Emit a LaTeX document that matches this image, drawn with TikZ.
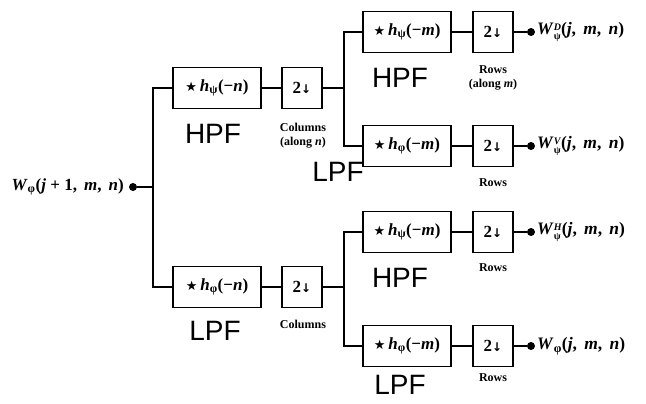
\documentclass[tikz,border=0pt]{standalone}
\usepackage{fontspec}
\setmainfont{Liberation Serif}
\setsansfont{Liberation Sans}
\newfontfamily\symf{DejaVu Sans}
\newcommand{\starh}[2]{{\symf\fontsize{13}{14}\selectfont ★}\,\textit{h}\textsubscript{#1}(−\textit{#2})}
\newcommand{\dn}{2{\symf\fontsize{12}{14}\selectfont ↓}}
\newcommand{\Wout}[2]{\textit{W}\raisebox{-4.5pt}{\fontsize{10}{12}\selectfont\shortstack[l]{\textit{#2}\\#1}}(\textit{j}, \,\textit{m}, \,\textit{n})}
\tikzset{
  x=1pt, y=-1pt,
  wire/.style={line width=1.6pt},
  filt/.style={draw, line width=1.6pt, minimum width=88pt, minimum height=41pt, inner sep=0pt, font=\bfseries\fontsize{17}{19}\selectfont},
  dsbox/.style={draw, line width=1.6pt, minimum width=40pt, minimum height=41pt, inner sep=0pt, font=\bfseries\fontsize{17}{19}\selectfont},
  big/.style={font=\sffamily\fontsize{28}{30}\selectfont, inner sep=0pt},
  small/.style={font=\bfseries\fontsize{12}{14}\selectfont, align=center, inner sep=0pt},
  dot/.style={circle, fill, inner sep=0pt, minimum size=8pt},
  outlbl/.style={anchor=west, inner sep=0pt, font=\bfseries\fontsize{17.5}{19}\selectfont}
}
\begin{document}
\begin{tikzpicture}
\useasboundingbox (0,0) rectangle (646,404);
% input
\node[dot] (in) at (133,187) {};
\node[anchor=east, inner sep=0pt, font=\bfseries\fontsize{17}{19}\selectfont] (inlbl) at (124,187) {\textit{W}\textsubscript{φ}(\textit{j} + 1, \,\textit{m}, \,\textit{n})};
\coordinate (j1) at (153,187);
% first stage
\node[filt] (fH) at (217,88) {\starh{ψ}{n}};
\node[dsbox] (dH) at (302,88) {\dn};
\node[filt] (fL) at (217,287) {\starh{φ}{n}};
\node[dsbox] (dL) at (302,287) {\dn};
\coordinate (j2) at (344,88);
\coordinate (j3) at (344,287);
% second stage
\node[filt] (fHH) at (407,32) {\starh{ψ}{m}};
\node[dsbox] (dHH) at (493,32) {\dn};
\node[filt] (fHL) at (407,146) {\starh{φ}{m}};
\node[dsbox] (dHL) at (493,146) {\dn};
\node[filt] (fLH) at (407,232) {\starh{ψ}{m}};
\node[dsbox] (dLH) at (493,232) {\dn};
\node[filt] (fLL) at (407,346) {\starh{φ}{m}};
\node[dsbox] (dLL) at (493,346) {\dn};
% outputs
\node[dot] (oD) at (531,32) {};
\node[dot] (oV) at (531,146) {};
\node[dot] (oH) at (531,232) {};
\node[dot] (oA) at (531,346) {};
\node[outlbl] (tD) at (537,32) {\Wout{ψ}{D}};
\node[outlbl] (tV) at (537,146) {\Wout{ψ}{V}};
\node[outlbl] (tH) at (537,232) {\Wout{ψ}{H}};
\node[outlbl] (tA) at (537,346) {\textit{W}\textsubscript{φ}(\textit{j}, \,\textit{m}, \,\textit{n})};
% wires
\draw[wire] (in) -- (j1);
\draw[wire] (j1) |- (fH.west);
\draw[wire] (j1) |- (fL.west);
\draw[wire] (fH) -- (dH);
\draw[wire] (fL) -- (dL);
\draw[wire] (dH) -- (j2);
\draw[wire] (dL) -- (j3);
\draw[wire] (j2) |- (fHH.west);
\draw[wire] (j2) |- (fHL.west);
\draw[wire] (j3) |- (fLH.west);
\draw[wire] (j3) |- (fLL.west);
\foreach \a/\b/\c in {fHH/dHH/oD, fHL/dHL/oV, fLH/dLH/oH, fLL/dLL/oA}{
  \draw[wire] (\a) -- (\b);
  \draw[wire] (\b) -- (\c);
}
% labels
\node[big] (l1) at (213,134) {HPF};
\node[big] (l2) at (215,331) {LPF};
\node[small] (c1) at (303,136) {Columns\\(along \textit{n})};
\node[small] (c2) at (303,324) {Columns};
\node[big] (l3) at (400,78) {HPF};
\node[small] (r1) at (493,78) {Rows\\(along \textit{m})};
\node[big] (l4) at (338,172) {LPF};
\node[small] (r2) at (493,183) {Rows};
\node[big] (l5) at (400,278) {HPF};
\node[small] (r3) at (493,268) {Rows};
\node[big] (l6) at (400,385) {LPF};
\node[small] (r4) at (493,378) {Rows};
\end{tikzpicture}
\end{document}
